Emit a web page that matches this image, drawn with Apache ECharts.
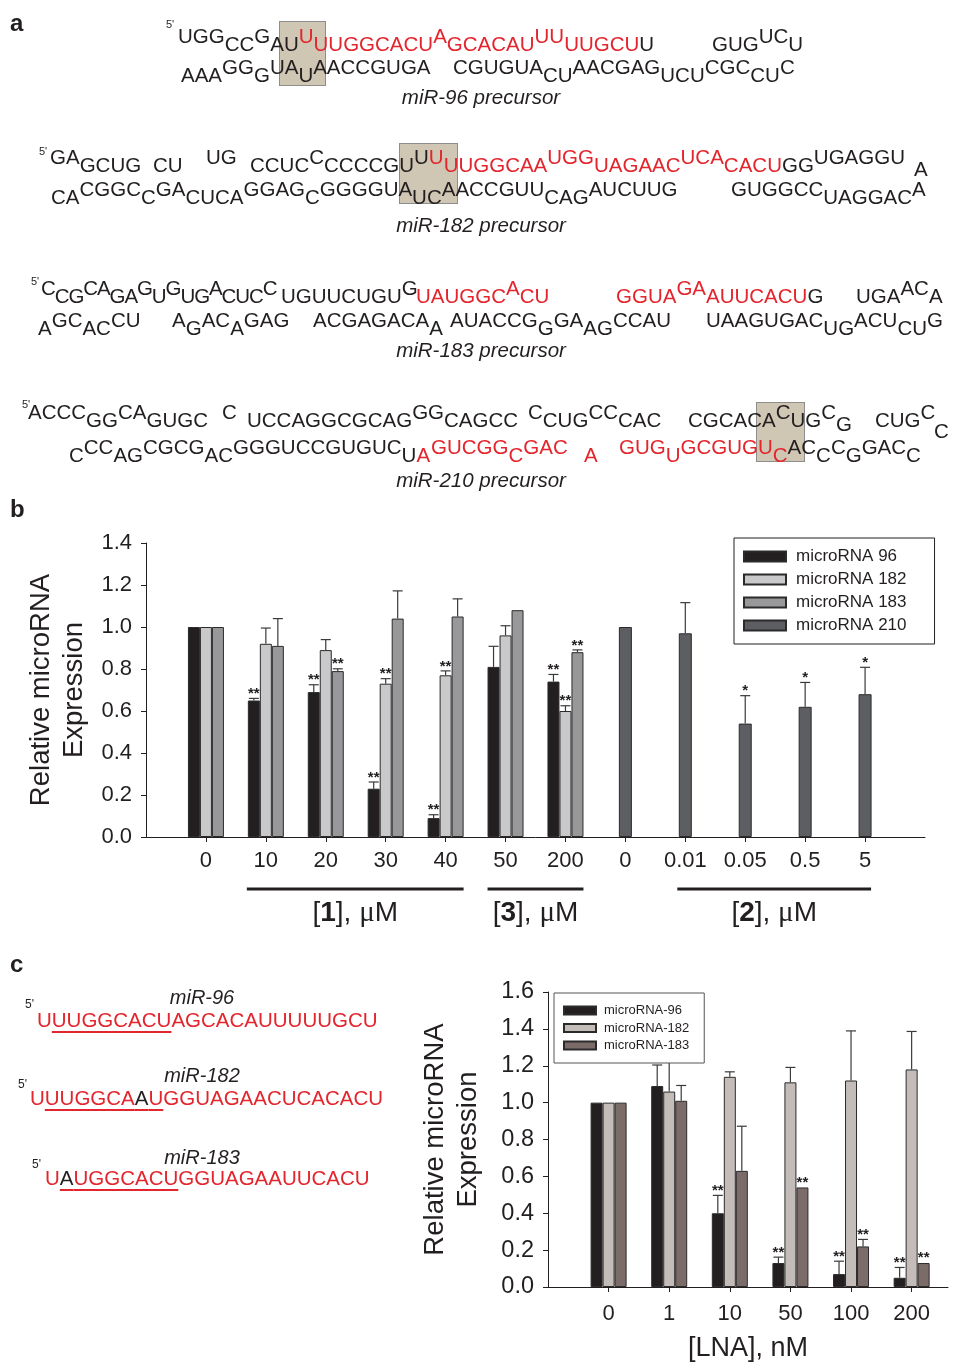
<!DOCTYPE html>
<html><head><meta charset="utf-8">
<script src="https://cdn.jsdelivr.net/npm/echarts@6/dist/echarts.min.js"></script>
<style>
html,body{margin:0;padding:0;background:#fff;}
#wrap{position:relative;width:973px;height:1363px;overflow:hidden;}
#chart{position:absolute;left:0;top:0;width:973px;height:1363px;}
#seq{position:absolute;left:0;top:0;width:973px;height:1363px;pointer-events:none;font-family:'Liberation Sans',Arial,sans-serif;color:#231f20;}
.w{position:absolute;white-space:nowrap;font-size:20.5px;line-height:20px;}
.w span{position:relative;}
.u{top:-8px;} .d{top:8px;} .m{top:11px;} .s{top:4px;}
.r{color:#e3262d;}
.p{position:absolute;font-size:11px;line-height:11px;}
.lab{position:absolute;font-style:italic;font-size:20.5px;line-height:20px;transform:translate(-50%,-50%);white-space:nowrap;}
.box{position:absolute;background:#cfc6b3;border:1.5px solid #8d8d8d;box-sizing:border-box;}
.cs{position:absolute;font-size:20.5px;line-height:20px;color:#e3262d;white-space:nowrap;}
.cs .k{color:#231f20;}
.cs .ul{text-decoration:underline;text-decoration-thickness:1.5px;text-underline-offset:4px;text-decoration-color:#e3262d;}
</style>
</head><body>
<div id="wrap">
<div id="chart"></div>
<div id="seq"></div>
</div>
<script>
// ---------- Panel b data ----------
const catB = ['0','10','20','30','40','50','200','0','0.01','0.05','0.5','5'];
const mir96B   = [1.00, 0.65, 0.69, 0.23, 0.09, 0.81, 0.74];
const mir96BErr= [0, 0.01, 0.035, 0.032, 0.016, 0.098, 0.034];
const mir96BSig= ['', '**', '**', '**', '**', '', '**'];
const mir182B   = [1.00, 0.92, 0.89, 0.73, 0.77, 0.96, 0.60];
const mir182BErr= [0, 0.075, 0.05, 0.024, 0.021, 0.046, 0.025];
const mir182BSig= ['', '', '', '**', '**', '', '**'];
const mir183B   = [1.00, 0.91, 0.79, 1.04, 1.05, 1.08, 0.88];
const mir183BErr= [0, 0.13, 0.011, 0.132, 0.084, 0.003, 0.011];
const mir183BSig= ['', '', '**', '', '', '', '**'];
const mir210B   = [1.00, 0.97, 0.54, 0.62, 0.68];
const mir210BErr= [0, 0.146, 0.133, 0.116, 0.128];
const mir210BSig= ['', '', '*', '*', '*'];
const yTicksB = [0, 1.4];

// ---------- Panel c data ----------
const catC = ['0','1','10','50','100','200'];
const mir96C   = [1.00, 1.09, 0.40, 0.13, 0.07, 0.05];
const mir96CErr= [0, 0.114, 0.097, 0.032, 0.07, 0.056];
const mir96CSig= ['', '', '**', '**', '**', '**'];
const mir182C   = [1.00, 1.06, 1.14, 1.11, 1.12, 1.18];
const mir182CErr= [0, 0.2, 0.027, 0.081, 0.269, 0.206];
const mir182CSig= ['', '', '', '', '', ''];
const mir183C   = [1.00, 1.01, 0.63, 0.54, 0.22, 0.13];
const mir183CErr= [0, 0.083, 0.242, 0.003, 0.038, 0.003];
const mir183CSig= ['', '', '', '**', '**', '**'];
const yTicksC = [0, 1.6];

// ---------- Sequence text (panel a) ----------
const precursors = [
  {label:'miR-96 precursor', labelY:97, five:[166,24], box:[279,21,47,65],
   rows:[{y:44, words:[[178,'^UGG CC ^G AU ^U! UUGGCACU! ^A! GCACAU! ^UU! UUGCU! U'],[712,'GUG ^UC U']]},
         {y:67, words:[[181,'_AAA GG _G UA _U AACCGUGA'],[453,'CGUGUA _CU AACGAG _UCU CGC _CU C']]}]},
  {label:'miR-182 precursor', labelY:225, five:[39,151], box:[399,143,59,61],
   rows:[{y:165, words:[[50,'^GA GCUG'],[153,'CU'],[206,'^UG'],[250,'CCUC ^C CCCCGU ^U ^U! UUGGCAA! ^UGG! UAGAAC! ^UCA! CACU! GG ^UGAGGU'],[914,'sA']]},
         {y:189, words:[[51,'_CA CGGC _C GA _CUCA GGAG _C GGGGUA _UC AACCGUU _CAG AUCUUG'],[731,'GUGGCC _UAGGAC A']]}]},
  {label:'miR-183 precursor', labelY:350, five:[31,281], box:null,
   rows:[{y:296, words:[[41,'^C CG ^CA GA ^G U ^G UG ^A CUC ^C',-1.1],[281,'UGUUCUGU ^G'],[416,'UAUGGC! ^A! CU!'],[616,'GGUA! ^GA! AUUCACU! G'],[856,'UGA ^AC A']]},
         {y:320, words:[[38,'_A GC _AC CU'],[172,'A _G AC _A GAG'],[313,'ACGAGACA _A'],[450,'AUACCG _G GA _AG CCAU'],[706,'UAAGUGAC _UG ACU _CU G']]}]},
  {label:'miR-210 precursor', labelY:480, five:[22,404], box:[756,402,49,60],
   rows:[{y:420, words:[[28,'^ACCC GG ^CA GUGC'],[222,'^C'],[247,'UCCAGGCGCAG ^GG CAGCC'],[528,'^C CUG ^CC CAC'],[688,'CGCACA ^C UG ^C sG'],[875,'CUG ^C'],[934,'~C']]},
         {y:447, words:[[69,'_C CC _AG CGCG _AC GGGUCCGUGUC _U _A!'],[431,'GUCGG! _C! GAC!'],[584,'_A!'],[619,'GUG! _U! GCGUGU! _C! AC _C C _G GAC _C']]}]}
];
// panel c mature sequences
const matures = [
  {name:'miR-96',  seq:'UUUGGCACUAGCACAUUUUUGCU',  black:-1, y:1020, x:37, five:[25,1004], labY:997},
  {name:'miR-182', seq:'UUUGGCAAUGGUAGAACUCACACU', black:7,  y:1098, x:30, five:[18,1084], labY:1075},
  {name:'miR-183', seq:'UAUGGCACUGGUAGAAUUCACU',   black:1,  y:1178, x:45, five:[32,1164], labY:1157}
];

// ---------- build sequence HTML ----------
const seqDiv = document.getElementById('seq');
let html = '';
function tok(t){
  let cls = '';
  const lv = {'^':'u','_':'d','~':'m','s':'s'};
  if (lv[t[0]] && t.length>1){cls+=lv[t[0]]+' ';t=t.slice(1);}
  if (t[t.length-1]==='!'){cls+='r';t=t.slice(0,-1);}
  return '<span class="'+cls.trim()+'">'+t+'</span>';
}
precursors.forEach(p=>{
  if (p.box) html += `<div class="box" style="left:${p.box[0]}px;top:${p.box[1]}px;width:${p.box[2]}px;height:${p.box[3]}px"></div>`;
  html += `<div class="p" style="left:${p.five[0]}px;top:${p.five[1]-5}px">5'</div>`;
  p.rows.forEach(r=>{
    r.words.forEach(w=>{
      const ls = w[2] ? `letter-spacing:${w[2]}px;` : '';
      html += `<div class="w" style="left:${w[0]}px;top:${r.y-10}px;${ls}">`+w[1].split(' ').map(tok).join('')+'</div>';
    });
  });
  html += `<div class="lab" style="left:481px;top:${p.labelY}px">${p.label}</div>`;
});
matures.forEach(m=>{
  html += `<div class="lab" style="left:202px;top:${m.labY}px;font-size:20px">${m.name}</div>`;
  html += `<div class="p" style="left:${m.five[0]}px;top:${m.five[1]-5}px;font-size:12px">5'</div>`;
  let s = '';
  for (let i=0;i<m.seq.length;i++){
    let ch = m.seq[i];
    if (i===m.black) ch = '<span class="k">'+ch+'</span>';
    if (i===1) s += '<span class="ul">';
    s += ch;
    if (i===8) s += '</span>';
  }
  html += `<div class="cs" style="left:${m.x}px;top:${m.y-10}px">${s}</div>`;
});
seqDiv.innerHTML = html;

// ---------- chart ----------
const TXT = '#231f20';
const FONT = 'Liberation Sans';
const BAR_W = 12;
const chart = echarts.init(document.getElementById('chart'), null, {renderer:'canvas'});

function barSeries(name, vals, color, xi, yi, start, w){
  return {type:'bar', name, xAxisIndex:xi, yAxisIndex:yi, barWidth:w||BAR_W, barGap:'0%', z:3,
    itemStyle:{color, borderColor:'#2b2b2b', borderWidth:1},
    data: vals.map((v,i)=>[start+i, v])};
}
function errSeries(vals, errs, sigs, xi, yi, start, slot, nSlots){
  return {type:'custom', xAxisIndex:xi, yAxisIndex:yi, z:6, silent:true,
    encode:{x:0, y:1},
    data: vals.map((v,i)=>[start+i, v, errs[i]]),
    renderItem:(params, api)=>{
      const i = params.dataIndex;
      const x = api.value(0), v = api.value(1), e = api.value(2);
      const off = (slot-(nSlots-1)/2)*BAR_W;
      const b = api.coord([x, v]), t = api.coord([x, v+e]);
      const cx = b[0]+off;
      const ch = [];
      if (e > 0.004){
        ch.push({type:'line', shape:{x1:cx,y1:b[1],x2:cx,y2:t[1]}, style:{stroke:'#3a3a3a', lineWidth:1.2}});
        ch.push({type:'line', shape:{x1:cx-5,y1:t[1],x2:cx+5,y2:t[1]}, style:{stroke:'#3a3a3a', lineWidth:1.2}});
      }
      if (sigs[i]) ch.push({type:'text', style:{text:sigs[i], x:cx, y:t[1]+3, align:'center', verticalAlign:'bottom',
        fontSize:15, fontWeight:'bold', fontFamily:FONT, fill:TXT}});
      return {type:'group', children:ch};
    }};
}
function yAxis(gi, max, gap, lblSize){
  return {gridIndex:gi, type:'value', min:0, max:max, interval:0.2,
    name:'Relative microRNA\nExpression', nameLocation:'middle', nameGap:gap, nameRotate:90,
    nameTextStyle:{fontSize:27.5, lineHeight:33, color:TXT, fontFamily:FONT},
    axisLine:{show:true, lineStyle:{color:TXT, width:1}},
    axisTick:{show:true, length:5, lineStyle:{color:TXT}},
    axisLabel:{fontSize:lblSize, margin:14, color:TXT, fontFamily:FONT, formatter:v=>v.toFixed(1)},
    splitLine:{show:false}};
}
function xAxis(gi, max, cats, show, margin){
  const vals = cats.map((_,i)=>i+1);
  return {gridIndex:gi, type:'value', min:0, max:max, show:show!==false,
    axisLine:{show:true, onZero:false, lineStyle:{color:TXT, width:1}},
    axisTick:{show:true, length:5, customValues:vals, lineStyle:{color:TXT}},
    axisLabel:{show:true, customValues:vals, fontSize:22, margin:margin||13, color:TXT, fontFamily:FONT,
      formatter:v=>cats[Math.round(v)-1]||''},
    splitLine:{show:false}};
}

const cB = ['#231f20', '#c9c9cb', '#98989b', '#5d5e61'];
const cC = ['#231f20', '#c3bcb9', '#7b6c69'];

const xC = xAxis(1, 6.6, catC, true, 16);
xC.name = '[LNA], nM'; xC.nameLocation = 'middle'; xC.nameGap = 48;
xC.nameTextStyle = {fontSize:27, color:TXT, fontFamily:FONT};

const option = {
  animation:false,
  backgroundColor:'#fff',
  textStyle:{fontFamily:FONT},
  grid:[
    {left:146, top:543, width:779, height:294, containLabel:false, outerBoundsMode:'none'},
    {left:548, top:992, width:400, height:295, containLabel:false, outerBoundsMode:'none'}
  ],
  xAxis:[ xAxis(0, 13, catB), xAxis(0, 13, catB, false), xC ],
  yAxis:[ yAxis(0, yTicksB[1], 53, 22), yAxis(1, yTicksC[1], 63, 23.5) ],
  legend:[
    {data:['microRNA 96','microRNA 182','microRNA 183','microRNA 210'], orient:'vertical', left:734, top:538,
     itemWidth:42, itemHeight:10, itemGap:6, padding:[10,28,10,9], icon:'rect', selectedMode:false,
     borderColor:TXT, borderWidth:1, backgroundColor:'#fff',
     textStyle:{fontSize:17, lineHeight:17, color:TXT, fontFamily:FONT, padding:[0,0,0,5]}},
    {data:['microRNA-96','microRNA-182','microRNA-183'], orient:'vertical', left:554, top:993,
     itemWidth:32, itemHeight:8, itemGap:4.5, padding:[11,15,11,9], icon:'rect', selectedMode:false,
     borderColor:'#555', borderWidth:1, backgroundColor:'#fff', z:10,
     textStyle:{fontSize:13, lineHeight:13, color:TXT, fontFamily:FONT, padding:[0,0,0,3]}}
  ],
  series:[
    barSeries('microRNA 96', mir96B, cB[0], 0, 0, 1),
    barSeries('microRNA 182', mir182B, cB[1], 0, 0, 1),
    barSeries('microRNA 183', mir183B, cB[2], 0, 0, 1),
    barSeries('microRNA 210', mir210B, cB[3], 1, 0, 8, 13),
    errSeries(mir96B, mir96BErr, mir96BSig, 0, 0, 1, 0, 3),
    errSeries(mir182B, mir182BErr, mir182BSig, 0, 0, 1, 1, 3),
    errSeries(mir183B, mir183BErr, mir183BSig, 0, 0, 1, 2, 3),
    errSeries(mir210B, mir210BErr, mir210BSig, 1, 0, 8, 0, 1),
    barSeries('microRNA-96', mir96C, cC[0], 2, 1, 1),
    barSeries('microRNA-182', mir182C, cC[1], 2, 1, 1),
    barSeries('microRNA-183', mir183C, cC[2], 2, 1, 1),
    errSeries(mir96C, mir96CErr, mir96CSig, 2, 1, 1, 0, 3),
    errSeries(mir182C, mir182CErr, mir182CSig, 2, 1, 1, 1, 3),
    errSeries(mir183C, mir183CErr, mir183CSig, 2, 1, 1, 2, 3)
  ]
};
chart.setOption(option);

// group brackets under panel b, placed through the axis scale
const brackets = [
  {num:'1', from:1, to:4, padL:19, padR:18},
  {num:'3', from:5, to:6, padL:18, padR:18},
  {num:'2', from:8, to:11, padL:8, padR:6}
];
const y0 = chart.convertToPixel({yAxisIndex:0}, 0);
const gfx = [];
brackets.forEach(b=>{
  const x1 = chart.convertToPixel({xAxisIndex:0}, b.from+1) - b.padL;
  const x2 = chart.convertToPixel({xAxisIndex:0}, b.to+1) + b.padR;
  gfx.push({type:'line', shape:{x1, y1:y0+52, x2, y2:y0+52}, style:{stroke:TXT, lineWidth:3}});
  gfx.push({type:'text', x:(x1+x2)/2, y:y0+76, style:{text:'[{b|'+b.num+'}], {m|μ}M', fontSize:28, fontFamily:FONT, fill:TXT,
    align:'center', verticalAlign:'middle',
    rich:{b:{fontWeight:'bold', fontSize:28, fontFamily:FONT, fill:TXT}, m:{fontFamily:'Liberation Serif', fontSize:29, fill:TXT}}}});
});
[['a',24],['b',510],['c',965]].forEach(p=>{
  gfx.push({type:'text', x:10, y:p[1], style:{text:p[0], font:'bold 24px "Liberation Sans"', fill:TXT, verticalAlign:'middle'}});
});
chart.setOption({graphic:gfx});
</script>
</body></html>
